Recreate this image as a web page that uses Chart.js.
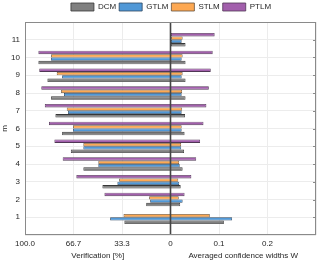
<!DOCTYPE html>
<html>
<head>
<meta charset="utf-8">
<script src="https://cdn.jsdelivr.net/npm/chart.js@4/dist/chart.umd.min.js"></script>
<style>
  html, body { margin: 0; padding: 0; background: #fff; }
  #wrap { width: 320px; height: 262px; }
</style>
</head>
<body>
<div id="wrap"><canvas id="myChart" width="320" height="262"></canvas></div>
<script>
// m = 1..11
const mValues = [1, 2, 3, 4, 5, 6, 7, 8, 9, 10, 11];

// verification [%] (left half)
const verDCM  = [31.7, 16.7, 46.8, 59.9, 68.5, 74.5, 79.1, 82.1, 84.6, 90.8, 0];
const verGTLM = [41.5, 14.0, 36.5, 49.6, 59.9, 67.0, 70.4, 73.2, 74.5, 82.1, 0];
const verSTLM = [32.3, 14.7, 35.3, 49.6, 59.9, 67.0, 71.3, 75.2, 78.2, 82.1, 0];
const verPTLM = [null, 45.4, 64.7, 74.1, 79.8, 83.5, 86.4, 88.8, 90.2, 90.8, 0];

// averaged confidence widths W (right half)
const wDCM  = [0.110, 0.020, 0.021, 0.025, 0.028, 0.029, 0.030, 0.031, 0.031, 0.031, 0.031];
const wGTLM = [0.127, 0.025, 0.018, 0.019, 0.022, 0.023, 0.023, 0.023, 0.023, 0.023, 0.023];
const wSTLM = [0.081, 0.017, 0.016, 0.018, 0.022, 0.023, 0.024, 0.024, 0.025, 0.025, 0.025];
const wPTLM = [null, 0.029, 0.043, 0.053, 0.061, 0.068, 0.074, 0.079, 0.083, 0.087, 0.091];

const xTicks = [-0.3, -0.2, -0.1, 0, 0.1, 0.2, 0.3];
const wMax = 0.3;

// left half: 100 % -> -wMax
function toBar(ver, w) {
  return ver.map((v, i) => (v === null || w[i] === null) ? null : [-v / 100 * wMax, w[i]]);
}

const ctx = document.getElementById('myChart');
const fontFam = "'Liberation Sans', Arial, sans-serif";

const frame = {
  id: 'frame',
  afterDraw(chart) {
    const a = chart.chartArea, c = chart.ctx;
    const xs = chart.scales.x;
    c.save();
    // zero line
    const x0 = xs.getPixelForValue(0);
    c.strokeStyle = '#454545';
    c.lineWidth = 1.6;
    c.beginPath(); c.moveTo(x0, a.top); c.lineTo(x0, a.bottom); c.stroke();
    // box
    c.strokeStyle = '#8a8a8a';
    c.lineWidth = 1;
    c.strokeRect(a.left + 0.5, a.top + 0.5, a.right - a.left - 1, a.bottom - a.top - 1);
    // small inward ticks on the right edge
    const ys = chart.scales.y;
    for (const m of mValues) {
      const y = Math.round(ys.getPixelForValue(m)) + 0.5;
      c.beginPath(); c.moveTo(a.right - 3, y); c.lineTo(a.right, y); c.stroke();
    }
    // axis titles
    c.fillStyle = '#262626';
    c.font = '8px ' + fontFam;
    c.textAlign = 'center';
    c.textBaseline = 'middle';
    c.fillText('Verification [%]', (a.left + x0) / 2, 256);
    c.fillText('Averaged confidence widths W', (x0 + a.right) / 2, 256);
    c.restore();
  }
};

const legendTweak = {
  id: 'legendTweak',
  beforeInit(chart) {
    const lg = chart.legend;
    const fit = lg.fit;
    lg.fit = function () { fit.call(lg); this.height = 22; };
    const draw = lg.draw;
    lg.draw = function () {
      chart.ctx.save();
      chart.ctx.translate(13, 0);
      draw.call(lg);
      chart.ctx.restore();
    };
  }
};

new Chart(ctx, {
  type: 'bar',
  data: {
    labels: mValues,
    datasets: [
      { label: 'PTLM', data: toBar(verPTLM, wPTLM), backgroundColor: 'rgb(162,95,172)', borderColor: 'rgb(80,55,85)' },
      { label: 'STLM', data: toBar(verSTLM, wSTLM), backgroundColor: 'rgb(253,168,82)', borderColor: 'rgb(100,80,60)' },
      { label: 'GTLM', data: toBar(verGTLM, wGTLM), backgroundColor: 'rgb(80,152,215)', borderColor: 'rgb(45,70,95)' },
      { label: 'DCM',  data: toBar(verDCM, wDCM),   backgroundColor: 'rgb(128,128,128)', borderColor: 'rgb(55,55,55)' }
    ]
  },
  options: {
    indexAxis: 'y',
    responsive: false,
    animation: false,
    devicePixelRatio: 1,
    layout: { padding: { left: 0, right: 4, top: 0, bottom: 0 } },
    datasets: { bar: { borderWidth: 0.8, borderSkipped: false, categoryPercentage: 0.76, barPercentage: 1 } },
    plugins: {
      tooltip: { enabled: false },
      legend: {
        position: 'top',
        labels: {
          boxWidth: 23, boxHeight: 8, padding: 3,
          color: '#262626',
          font: { family: fontFam, size: 8 },
          sort: (a, b) => b.datasetIndex - a.datasetIndex
        }
      }
    },
    scales: {
      x: {
        type: 'linear',
        min: -wMax, max: wMax,
        afterBuildTicks: s => { s.ticks = xTicks.map(v => ({ value: v })); },
        afterFit: s => { s.height = 27; },
        border: { display: false },
        grid: {
          drawTicks: false,
          color: c => c.tick && c.tick.value === 0 ? 'rgba(0,0,0,0)' : '#ececec',
          lineWidth: 1
        },
        ticks: {
          padding: 4,
          maxRotation: 0,
          color: '#262626',
          font: { family: fontFam, size: 8 },
          callback: v => {
            if (v < 0) return (-v / wMax * 100).toFixed(1);
            if (v === 0) return '0';
            if (v >= wMax - 1e-9) return '';
            return String(+v.toFixed(1));
          }
        }
      },
      y: {
        type: 'linear',
        offset: false,
        min: 0, max: 12,
        afterBuildTicks: s => { s.ticks = [0,1,2,3,4,5,6,7,8,9,10,11,12].map(v => ({ value: v })); },
        afterFit: s => { s.width = 25; },
        border: { display: false },
        grid: { drawTicks: false, offset: false, color: '#ececec' },
        title: { display: true, text: 'm', color: '#262626', font: { family: fontFam, size: 8 }, padding: 0 },
        ticks: {
          padding: 5,
          color: '#262626',
          font: { family: fontFam, size: 8 },
          callback: v => (v < 1 || v > 11) ? '' : String(v)
        }
      }
    }
  },
  plugins: [frame, legendTweak]
});
</script>
</body>
</html>
